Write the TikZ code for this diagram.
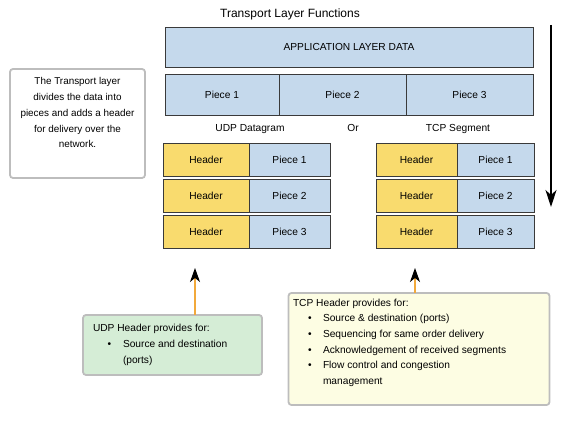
\documentclass[tikz,border=0pt]{standalone}
\usepackage{fontspec}
\setmainfont{Liberation Sans}
\usetikzlibrary{arrows.meta}
\definecolor{pblue}{HTML}{C5D9EC}
\definecolor{hyel}{HTML}{F9DB6E}
\definecolor{ugreen}{HTML}{D5EDD6}
\definecolor{tyel}{HTML}{FDFDE3}
\definecolor{edgec}{HTML}{3A3A3A}
\definecolor{sgray}{HTML}{BDBDBD}
\definecolor{oline}{HTML}{F2A93B}
\begin{document}
\begin{tikzpicture}[x=1pt,y=-1pt,
  every node/.style={font=\fontsize{10.2}{12}\selectfont, inner sep=0pt, outer sep=0pt},
  blk/.style={draw=edgec, line width=0.7pt, minimum height=#1},
  blk/.default=33pt,
  pc/.style={blk, fill=pblue},
  hd/.style={blk, fill=hyel},
  notebox/.style={draw=sgray, line width=1.8pt, rounded corners=3pt},
  txt/.style={anchor=base west},
  oarrow/.style={draw=oline, line width=1.1pt, -{Stealth[black,length=14pt,width=10pt,inset=4pt]}}
]
\useasboundingbox (0,0) rectangle (566,422);

% title
\node[font=\fontsize{12}{14}\selectfont] (title) at (290,14) {Transport Layer Functions};

% application data
\node[pc, minimum width=368pt, minimum height=40pt] (app) at (349,47) {APPLICATION LAYER DATA};

% pieces
\node[pc, minimum width=114pt, minimum height=41pt] (p1) at (222,94.5) {Piece 1};
\node[pc, minimum width=127pt, minimum height=41pt] (p2) at (342.5,94.5) {Piece 2};
\node[pc, minimum width=127pt, minimum height=41pt] (p3) at (469.5,94.5) {Piece 3};

% labels
\node (udplbl) at (250,129) {UDP Datagram};
\node (orlbl) at (353,128) {Or};
\node (tcplbl) at (458,129) {TCP Segment};

% UDP datagrams
\node[hd, minimum width=86pt] (uh1) at (206,159.5) {Header};
\node[pc, minimum width=81pt, minimum height=33pt] (up1) at (289.5,159.5) {Piece 1};
\node[hd, minimum width=86pt] (uh2) at (206,195.5) {Header};
\node[pc, minimum width=81pt, minimum height=33pt] (up2) at (289.5,195.5) {Piece 2};
\node[hd, minimum width=86pt] (uh3) at (206,231.5) {Header};
\node[pc, minimum width=81pt, minimum height=33pt] (up3) at (289.5,231.5) {Piece 3};

% TCP segments
\node[hd, minimum width=81pt] (th1) at (416.5,159.5) {Header};
\node[pc, minimum width=77pt, minimum height=33pt] (tp1) at (495.5,159.5) {Piece 1};
\node[hd, minimum width=81pt] (th2) at (416.5,195.5) {Header};
\node[pc, minimum width=77pt, minimum height=33pt] (tp2) at (495.5,195.5) {Piece 2};
\node[hd, minimum width=81pt] (th3) at (416.5,231.5) {Header};
\node[pc, minimum width=77pt, minimum height=33pt] (tp3) at (495.5,231.5) {Piece 3};

% vertical flow arrow
\coordinate (vtop) at (551,25);
\coordinate (vbot) at (551,207);
\draw[black, line width=1.3pt, -{Stealth[length=17pt,width=11pt,inset=5pt]}] (vtop) -- (vbot);

% left note
\node[notebox, fill=white, minimum width=135pt, minimum height=109pt] (note) at (77.5,123.5) {};
\node[align=center, anchor=north, font=\fontsize{9.9}{15.8}\selectfont] (notetxt) at (77.5,77.5)
  {The Transport layer\\divides the data into\\pieces and adds a header\\for delivery over the\\network.};

% UDP header box
\node[notebox, fill=ugreen, minimum width=179pt, minimum height=60pt] (udpbox) at (172.5,345) {};
\node[txt] (u0) at (93,331.5) {UDP Header provides for:};
\node[anchor=base] (ub1) at (109.5,347.8) {•};
\node[txt] (u1) at (123,347.8) {Source and destination};
\node[txt] (u2) at (123,364) {(ports)};
\coordinate (utip) at (195,268);
\draw[oarrow] (udpbox.north -| utip) -- (utip);

% TCP header box
\node[notebox, fill=tyel, minimum width=261pt, minimum height=112pt] (tcpbox) at (419,349) {};
\node[txt] (t0) at (293,306.5) {TCP Header provides for:};
\node[anchor=base] (tb1) at (310,322) {•};
\node[txt] (t1) at (323,322) {Source \& destination (ports)};
\node[anchor=base] (tb2) at (310,337.5) {•};
\node[txt] (t2) at (323,337.5) {Sequencing for same order delivery};
\node[anchor=base] (tb3) at (310,353.5) {•};
\node[txt] (t3) at (323,353.5) {Acknowledgement of received segments};
\node[anchor=base] (tb4) at (310,369) {•};
\node[txt] (t4) at (323,369) {Flow control and congestion};
\node[txt] (t5) at (323,384.5) {management};
\coordinate (ttip) at (415,268);
\draw[oarrow] (tcpbox.north -| ttip) -- (ttip);
\end{tikzpicture}
\end{document}
